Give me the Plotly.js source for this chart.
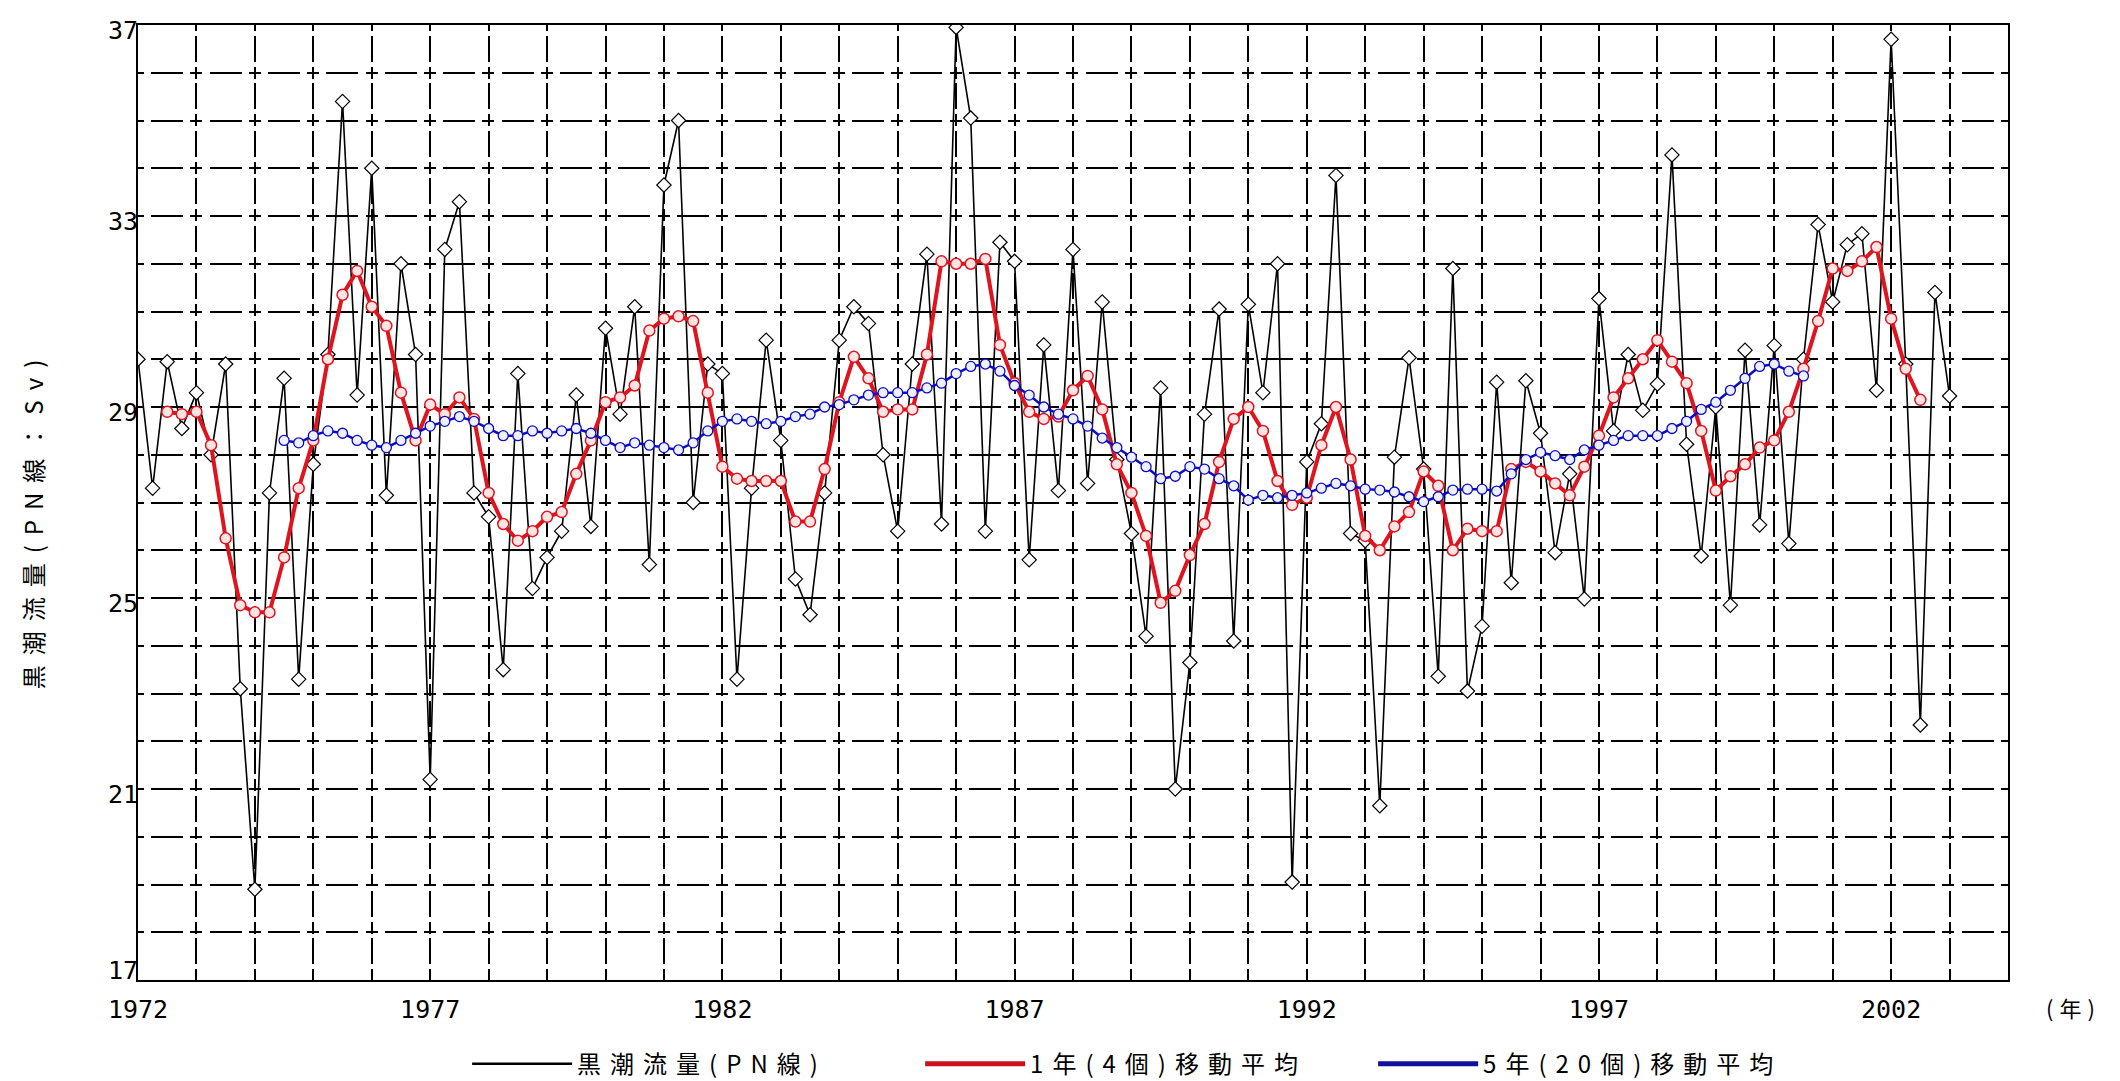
<!DOCTYPE html>
<html>
<head>
<meta charset="utf-8">
<script src="https://cdn.plot.ly/plotly-3.0.1.min.js"></script>
<style>
html,body{margin:0;padding:0;background:#fff;}
#chart{width:2120px;height:1081px;}
.legendtext{letter-spacing:9px;}
.ytitle{letter-spacing:10px;}
.g-ytitle{transform:translate(-4px,17px);}
.yaxislayer-above g.ytick{transform:translate(23px,5px);}
.yaxislayer-above g.ytick:has(text[data-unformatted="17"]){transform:translate(23px,-10px);}
.annotation-text{letter-spacing:6px;}
</style>
</head>
<body>
<div id="chart"></div>
<script>
// Quarterly Kuroshio transport across the PN line (Sv)
const blackStart = 1972.0;
const blackValues = [
  30.0, 27.3, 29.95, 28.55,
  29.3, 28.0, 29.9, 23.1,
  18.9, 27.2, 29.6, 23.3,
  27.8, 30.1, 35.4, 29.25,
  34.0, 27.15, 32.0, 30.1,
  21.2, 32.3, 33.3, 27.2,
  26.7, 23.5, 29.7, 25.2,
  25.85, 26.4, 29.25, 26.5,
  30.65, 28.85, 31.1, 25.7,
  33.65, 35.0, 27.0, 29.9,
  29.7, 23.3, 27.3, 30.4,
  28.3, 25.4, 24.65, 27.2,
  30.4, 31.1, 30.75, 28.0,
  26.4, 29.9, 32.2, 26.55,
  36.95, 35.05, 26.4, 32.45,
  32.05, 25.8, 30.3, 27.25,
  32.3, 27.4, 31.2, 27.9,
  26.35, 24.2, 29.4, 21.0,
  23.65, 28.85, 31.05, 24.1,
  31.15, 29.3, 32.0, 19.05,
  27.85, 28.65, 33.85, 26.35,
  26.2, 20.65, 27.95, 30.03,
  27.7, 23.36, 31.9, 23.05,
  24.41, 29.52, 25.32, 29.55,
  28.45, 25.95, 27.6, 24.98,
  31.27, 28.5, 30.1, 28.93,
  29.48, 34.28, 28.22, 25.88,
  29.0, 24.85, 30.19, 26.53,
  30.29, 26.14, 30.0, 32.82,
  31.2, 32.4, 32.63, 29.35,
  36.7, 29.9, 22.34, 31.4,
  29.23
];

// 1-year (4 values) moving average
const redStart = 1972.5;
const redValues = [
  28.9, 28.85,
  28.9, 28.2, 26.25, 24.85,
  24.7, 24.7, 25.85, 27.3,
  28.3, 30.0, 31.35, 31.85,
  31.1, 30.7, 29.3, 28.3,
  29.05, 28.85, 29.2, 28.75,
  27.2, 26.55, 26.2, 26.4,
  26.7, 26.8, 27.6, 28.3,
  29.1, 29.2, 29.45, 30.6,
  30.85, 30.9, 30.8, 29.3,
  27.75, 27.5, 27.45, 27.45,
  27.45, 26.6, 26.6, 27.7,
  29.1, 30.05, 29.6, 28.9,
  28.95, 28.95, 30.1, 32.05,
  32.0, 32.0, 32.1, 30.3,
  29.5, 28.9, 28.75, 28.8,
  29.35, 29.65, 28.95, 27.8,
  27.2, 26.3, 24.9, 25.15,
  25.9, 26.55, 27.85, 28.75,
  29.0, 28.5, 27.45, 26.95,
  27.1, 28.2, 29.0, 27.9,
  26.3, 26.0, 26.5, 26.8,
  27.65, 27.35, 26.0, 26.45,
  26.4, 26.4, 27.7, 27.85,
  27.65, 27.4, 27.15, 27.75,
  28.4, 29.2, 29.6, 30.0,
  30.4, 29.95, 29.5, 28.5,
  27.25, 27.55, 27.8, 28.15,
  28.3, 28.9, 29.8, 30.8,
  31.9, 31.85, 32.05, 32.35,
  30.85, 29.8, 29.15
];

// 5-year (20 values) moving average
const blueStart = 1974.5;
const blueValues = [
  28.3, 28.25,
  28.4, 28.5, 28.45, 28.3,
  28.2, 28.15, 28.3, 28.45,
  28.6, 28.7, 28.8, 28.7,
  28.55, 28.4, 28.4, 28.5,
  28.45, 28.5, 28.55, 28.45,
  28.3, 28.15, 28.25, 28.2,
  28.15, 28.1, 28.25, 28.5,
  28.7, 28.75, 28.7, 28.65,
  28.7, 28.8, 28.85, 29.0,
  29.05, 29.15, 29.25, 29.3,
  29.3, 29.3, 29.4, 29.5,
  29.7, 29.85, 29.9, 29.75,
  29.45, 29.25, 29.0, 28.85,
  28.75, 28.6, 28.35, 28.15,
  27.95, 27.75, 27.5, 27.55,
  27.75, 27.7, 27.5, 27.35,
  27.05, 27.15, 27.1, 27.15,
  27.2, 27.3, 27.4, 27.35,
  27.28, 27.26, 27.22, 27.12,
  27.02, 27.12, 27.26, 27.28,
  27.28, 27.24, 27.6, 27.9,
  28.05, 27.98, 27.9, 28.1,
  28.2, 28.3, 28.4, 28.4,
  28.4, 28.55, 28.7, 28.95,
  29.1, 29.35, 29.6, 29.85,
  29.9, 29.75, 29.65
];

const legendNames = ['黒潮流量(PN線)', '1年(4個)移動平均', '5年(20個)移動平均'];
const yTitle = '黒潮流量(PN線：Sv)';
const yearUnit = '(年)';

const xYears = [];
for (let y = 1972; y <= 2004; y++) xYears.push(y);
const xLabelYears = [1972, 1977, 1982, 1987, 1992, 1997, 2002];
const yTicks = [];
for (let v = 17; v <= 37; v++) yTicks.push(v);
const yLabelVals = [17, 21, 25, 29, 33, 37];

function quarters(start, n) {
  const out = [];
  for (let i = 0; i < n; i++) out.push(start + i * 0.25);
  return out;
}

const black = '#000000';
const red = '#e0141e';
const blue = '#0c0cc4';

const traces = [
  {
    x: quarters(blackStart, blackValues.length), y: blackValues,
    mode: 'lines+markers', showlegend: false, name: legendNames[0],
    line: {color: black, width: 1.6},
    marker: {symbol: 'diamond', size: 11, color: '#ffffff', line: {color: black, width: 1.2}}
  },
  {
    x: quarters(redStart, redValues.length), y: redValues,
    mode: 'lines+markers', showlegend: false, name: legendNames[1],
    line: {color: red, width: 4},
    marker: {symbol: 'circle', size: 11, color: '#ffe4e4', line: {color: red, width: 1.5}}
  },
  {
    x: quarters(blueStart, blueValues.length), y: blueValues,
    mode: 'lines+markers', showlegend: false, name: legendNames[2],
    line: {color: blue, width: 2.5},
    marker: {symbol: 'circle', size: 10, color: '#eef0ff', line: {color: blue, width: 1.3}}
  },
  {x: [null], y: [null], mode: 'lines', name: legendNames[0], line: {color: black, width: 2.5}},
  {x: [null], y: [null], mode: 'lines', name: legendNames[1], line: {color: '#c8141e', width: 5}},
  {x: [null], y: [null], mode: 'lines', name: legendNames[2], line: {color: '#10109a', width: 5}}
];

const tickFont = {family: 'DejaVu Sans Mono', size: 25, color: '#000'};

const layout = {
  width: 2120, height: 1081,
  margin: {l: 138, r: 112, t: 25, b: 101, autoexpand: false},
  paper_bgcolor: '#ffffff', plot_bgcolor: '#ffffff',
  showlegend: true,
  xaxis: {
    range: [1972, 2004], autorange: false, automargin: false,
    tickmode: 'array', tickvals: xYears,
    ticktext: xYears.map(y => xLabelYears.includes(y) ? String(y) : ''),
    showgrid: true, gridcolor: '#000', gridwidth: 2,
    griddash: '6px,4.75px,26px,4.75px,6px,0px',
    showline: true, mirror: true, linecolor: '#000', linewidth: 2,
    ticks: 'outside', ticklen: 0, tickcolor: 'rgba(0,0,0,0)',
    zeroline: false, tickfont: tickFont, ticklabelstandoff: 6
  },
  yaxis: {
    range: [17, 37], autorange: false, automargin: false,
    tickmode: 'array', tickvals: yTicks,
    ticktext: yTicks.map(v => yLabelVals.includes(v) ? String(v) : ''),
    showgrid: true, gridcolor: '#000', gridwidth: 2,
    griddash: '6px,7.2px,32px,7.2px,6px,0px',
    showline: true, mirror: true, linecolor: '#000', linewidth: 2,
    ticks: 'outside', ticklen: 0, tickcolor: 'rgba(0,0,0,0)',
    zeroline: false, tickfont: tickFont, ticklabelstandoff: 16,
    title: {text: yTitle, font: {family: 'Noto Sans CJK JP', size: 24, color: '#000'}, standoff: 30}
  },
  legend: {
    orientation: 'h', x: 0.176, xanchor: 'left', y: -0.088, yanchor: 'middle',
    font: {family: 'Noto Sans CJK JP', size: 24, color: '#000'},
    itemwidth: 100, entrywidth: 338, bgcolor: 'rgba(0,0,0,0)'
  },
  annotations: [{
    text: yearUnit, xref: 'paper', yref: 'paper', x: 1.035, y: -0.028,
    xanchor: 'center', yanchor: 'middle', showarrow: false,
    font: {family: 'Noto Sans CJK JP', size: 22, color: '#000'}
  }]
};

Plotly.newPlot('chart', traces, layout, {displayModeBar: false, staticPlot: true});
</script>
</body>
</html>
